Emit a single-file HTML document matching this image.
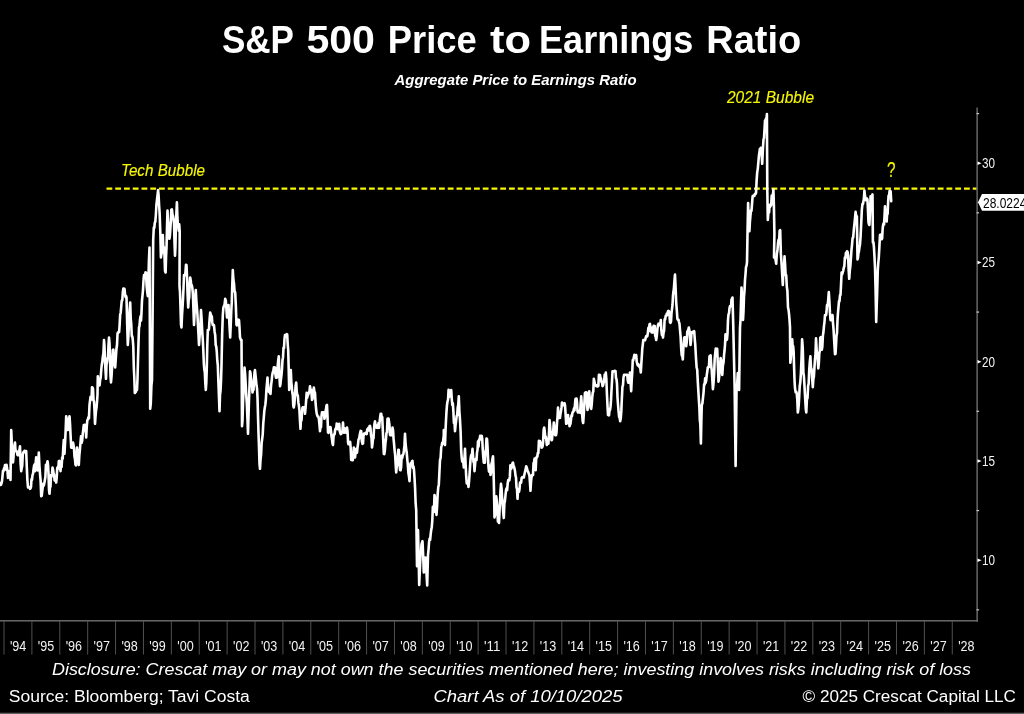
<!DOCTYPE html>
<html lang="en"><head><meta charset="utf-8"><title>S&amp;P 500 Price to Earnings Ratio</title>
<style>
html,body{margin:0;padding:0;background:#000;}
body{width:1024px;height:714px;overflow:hidden;font-family:"Liberation Sans", "DejaVu Sans", sans-serif;}
svg{display:block;}
text{font-family:"Liberation Sans", "DejaVu Sans", sans-serif;}
.t{fill:#fff;}
.y{fill:#f7f700;font-style:italic;stroke:#f7f700;stroke-width:0.12px;}
.ax{fill:#f2f2f2;font-size:14.5px;}
.ft{fill:#fff;font-size:16px;}
</style></head><body>
<svg width="1024" height="714" viewBox="0 0 1024 714">
<rect width="1024" height="714" fill="#000"/>
<text class="t" y="52.5" font-size="38.4" font-weight="bold"><tspan x="221.9" textLength="71.5" lengthAdjust="spacingAndGlyphs">S&amp;P</tspan> <tspan x="306.4" textLength="68.6" lengthAdjust="spacingAndGlyphs">500</tspan> <tspan x="387.8" textLength="89" lengthAdjust="spacingAndGlyphs">Price</tspan> <tspan x="490" textLength="41" lengthAdjust="spacingAndGlyphs">to</tspan> <tspan x="539" textLength="154.4" lengthAdjust="spacingAndGlyphs">Earnings</tspan> <tspan x="706.3" textLength="94.9" lengthAdjust="spacingAndGlyphs">Ratio</tspan></text>
<text class="t" x="394.5" y="85" font-size="14.8" font-weight="bold" font-style="italic" textLength="242" lengthAdjust="spacingAndGlyphs">Aggregate Price to Earnings Ratio</text>
<text class="y" x="727" y="103.4" font-size="15.8" textLength="87" lengthAdjust="spacingAndGlyphs">2021 Bubble</text>
<text class="y" x="121" y="175.7" font-size="15.8" textLength="84" lengthAdjust="spacingAndGlyphs">Tech Bubble</text>
<text class="y" x="887" y="177" font-size="21.5" style="font-style:normal" textLength="8.5" lengthAdjust="spacingAndGlyphs">?</text>
<line x1="106.5" y1="188.6" x2="977" y2="188.6" stroke="#f7f700" stroke-width="2.1" stroke-dasharray="5.8 2.95"/>
<rect x="976.3" y="107.5" width="1.7" height="514" fill="#5a5a5a"/>
<rect x="0" y="620.1" width="978" height="1.4" fill="#707070"/>
<rect x="976.5" y="609.225" width="2.6" height="1.2" fill="#c8c8c8"/>
<path d="M977.5,558.5 L981.6,560.2 L977.5,561.9 Z" fill="#fff"/>
<text class="ax" x="982" y="565.1" textLength="13" lengthAdjust="spacingAndGlyphs">10</text>
<rect x="976.5" y="509.975" width="2.6" height="1.2" fill="#c8c8c8"/>
<path d="M977.5,459.25 L981.6,460.95 L977.5,462.65 Z" fill="#fff"/>
<text class="ax" x="982" y="465.85" textLength="13" lengthAdjust="spacingAndGlyphs">15</text>
<rect x="976.5" y="410.725" width="2.6" height="1.2" fill="#c8c8c8"/>
<path d="M977.5,360 L981.6,361.7 L977.5,363.4 Z" fill="#fff"/>
<text class="ax" x="982" y="366.6" textLength="13" lengthAdjust="spacingAndGlyphs">20</text>
<rect x="976.5" y="311.475" width="2.6" height="1.2" fill="#c8c8c8"/>
<path d="M977.5,260.75 L981.6,262.45 L977.5,264.15 Z" fill="#fff"/>
<text class="ax" x="982" y="267.35" textLength="13" lengthAdjust="spacingAndGlyphs">25</text>
<rect x="976.5" y="212.225" width="2.6" height="1.2" fill="#c8c8c8"/>
<path d="M977.5,161.5 L981.6,163.2 L977.5,164.9 Z" fill="#fff"/>
<text class="ax" x="982" y="168.1" textLength="13" lengthAdjust="spacingAndGlyphs">30</text>
<rect x="976.5" y="112.975" width="2.6" height="1.2" fill="#c8c8c8"/>
<path d="M978,202.3 L982,194.1 L1024,194.1 L1024,210.7 L982,210.7 Z" fill="#fff"/>
<text x="983" y="207.7" font-size="14.5" fill="#000" textLength="43.3" lengthAdjust="spacingAndGlyphs">28.0224</text>
<rect x="3.5" y="621" width="1" height="33.5" fill="#505050"/>
<text class="ax" x="9.9" y="651.4" textLength="16.4" lengthAdjust="spacingAndGlyphs">'94</text>
<rect x="31.39" y="621" width="1" height="33.5" fill="#505050"/>
<text class="ax" x="37.79" y="651.4" textLength="16.4" lengthAdjust="spacingAndGlyphs">'95</text>
<rect x="59.28" y="621" width="1" height="33.5" fill="#505050"/>
<text class="ax" x="65.68" y="651.4" textLength="16.4" lengthAdjust="spacingAndGlyphs">'96</text>
<rect x="87.17" y="621" width="1" height="33.5" fill="#505050"/>
<text class="ax" x="93.57" y="651.4" textLength="16.4" lengthAdjust="spacingAndGlyphs">'97</text>
<rect x="115.06" y="621" width="1" height="33.5" fill="#505050"/>
<text class="ax" x="121.46" y="651.4" textLength="16.4" lengthAdjust="spacingAndGlyphs">'98</text>
<rect x="142.95" y="621" width="1" height="33.5" fill="#505050"/>
<text class="ax" x="149.35" y="651.4" textLength="16.4" lengthAdjust="spacingAndGlyphs">'99</text>
<rect x="170.84" y="621" width="1" height="33.5" fill="#505050"/>
<text class="ax" x="177.24" y="651.4" textLength="16.4" lengthAdjust="spacingAndGlyphs">'00</text>
<rect x="198.73" y="621" width="1" height="33.5" fill="#505050"/>
<text class="ax" x="205.13" y="651.4" textLength="16.4" lengthAdjust="spacingAndGlyphs">'01</text>
<rect x="226.62" y="621" width="1" height="33.5" fill="#505050"/>
<text class="ax" x="233.02" y="651.4" textLength="16.4" lengthAdjust="spacingAndGlyphs">'02</text>
<rect x="254.51" y="621" width="1" height="33.5" fill="#505050"/>
<text class="ax" x="260.91" y="651.4" textLength="16.4" lengthAdjust="spacingAndGlyphs">'03</text>
<rect x="282.4" y="621" width="1" height="33.5" fill="#505050"/>
<text class="ax" x="288.8" y="651.4" textLength="16.4" lengthAdjust="spacingAndGlyphs">'04</text>
<rect x="310.29" y="621" width="1" height="33.5" fill="#505050"/>
<text class="ax" x="316.69" y="651.4" textLength="16.4" lengthAdjust="spacingAndGlyphs">'05</text>
<rect x="338.18" y="621" width="1" height="33.5" fill="#505050"/>
<text class="ax" x="344.58" y="651.4" textLength="16.4" lengthAdjust="spacingAndGlyphs">'06</text>
<rect x="366.07" y="621" width="1" height="33.5" fill="#505050"/>
<text class="ax" x="372.47" y="651.4" textLength="16.4" lengthAdjust="spacingAndGlyphs">'07</text>
<rect x="393.96" y="621" width="1" height="33.5" fill="#505050"/>
<text class="ax" x="400.36" y="651.4" textLength="16.4" lengthAdjust="spacingAndGlyphs">'08</text>
<rect x="421.85" y="621" width="1" height="33.5" fill="#505050"/>
<text class="ax" x="428.25" y="651.4" textLength="16.4" lengthAdjust="spacingAndGlyphs">'09</text>
<rect x="449.74" y="621" width="1" height="33.5" fill="#505050"/>
<text class="ax" x="456.14" y="651.4" textLength="16.4" lengthAdjust="spacingAndGlyphs">'10</text>
<rect x="477.63" y="621" width="1" height="33.5" fill="#505050"/>
<text class="ax" x="484.03" y="651.4" textLength="16.4" lengthAdjust="spacingAndGlyphs">'11</text>
<rect x="505.52" y="621" width="1" height="33.5" fill="#505050"/>
<text class="ax" x="511.92" y="651.4" textLength="16.4" lengthAdjust="spacingAndGlyphs">'12</text>
<rect x="533.41" y="621" width="1" height="33.5" fill="#505050"/>
<text class="ax" x="539.81" y="651.4" textLength="16.4" lengthAdjust="spacingAndGlyphs">'13</text>
<rect x="561.3" y="621" width="1" height="33.5" fill="#505050"/>
<text class="ax" x="567.7" y="651.4" textLength="16.4" lengthAdjust="spacingAndGlyphs">'14</text>
<rect x="589.19" y="621" width="1" height="33.5" fill="#505050"/>
<text class="ax" x="595.59" y="651.4" textLength="16.4" lengthAdjust="spacingAndGlyphs">'15</text>
<rect x="617.08" y="621" width="1" height="33.5" fill="#505050"/>
<text class="ax" x="623.48" y="651.4" textLength="16.4" lengthAdjust="spacingAndGlyphs">'16</text>
<rect x="644.97" y="621" width="1" height="33.5" fill="#505050"/>
<text class="ax" x="651.37" y="651.4" textLength="16.4" lengthAdjust="spacingAndGlyphs">'17</text>
<rect x="672.86" y="621" width="1" height="33.5" fill="#505050"/>
<text class="ax" x="679.26" y="651.4" textLength="16.4" lengthAdjust="spacingAndGlyphs">'18</text>
<rect x="700.75" y="621" width="1" height="33.5" fill="#505050"/>
<text class="ax" x="707.15" y="651.4" textLength="16.4" lengthAdjust="spacingAndGlyphs">'19</text>
<rect x="728.64" y="621" width="1" height="33.5" fill="#505050"/>
<text class="ax" x="735.04" y="651.4" textLength="16.4" lengthAdjust="spacingAndGlyphs">'20</text>
<rect x="756.53" y="621" width="1" height="33.5" fill="#505050"/>
<text class="ax" x="762.93" y="651.4" textLength="16.4" lengthAdjust="spacingAndGlyphs">'21</text>
<rect x="784.42" y="621" width="1" height="33.5" fill="#505050"/>
<text class="ax" x="790.82" y="651.4" textLength="16.4" lengthAdjust="spacingAndGlyphs">'22</text>
<rect x="812.31" y="621" width="1" height="33.5" fill="#505050"/>
<text class="ax" x="818.71" y="651.4" textLength="16.4" lengthAdjust="spacingAndGlyphs">'23</text>
<rect x="840.2" y="621" width="1" height="33.5" fill="#505050"/>
<text class="ax" x="846.6" y="651.4" textLength="16.4" lengthAdjust="spacingAndGlyphs">'24</text>
<rect x="868.09" y="621" width="1" height="33.5" fill="#505050"/>
<text class="ax" x="874.49" y="651.4" textLength="16.4" lengthAdjust="spacingAndGlyphs">'25</text>
<rect x="895.98" y="621" width="1" height="33.5" fill="#505050"/>
<text class="ax" x="902.38" y="651.4" textLength="16.4" lengthAdjust="spacingAndGlyphs">'26</text>
<rect x="923.87" y="621" width="1" height="33.5" fill="#505050"/>
<text class="ax" x="930.27" y="651.4" textLength="16.4" lengthAdjust="spacingAndGlyphs">'27</text>
<rect x="951.76" y="621" width="1" height="33.5" fill="#505050"/>
<text class="ax" x="958.16" y="651.4" textLength="16.4" lengthAdjust="spacingAndGlyphs">'28</text>
<path d="M0,485 L0.5,483.2 L1,484.8 L1.5,483.1 L2,481.1 L2.5,476.2 L3,470.7 L3.5,471.1 L4,468.4 L4.5,468.5 L5,465 L5.5,467.8 L6,469.6 L6.5,464.7 L7,467.9 L7.5,471.2 L8,477.9 L8.5,474.8 L9,471.4 L9.5,471.8 L10,474.2 L10.5,480 L11.2,430 L11.8,442.9 L12.4,450.6 L13,462.5 L13.5,457 L14,446.8 L14.5,447.3 L15,442.5 L15.5,450.9 L16,451.2 L16.5,450.9 L17,452.4 L17.5,455 L18,455.3 L18.5,455.3 L19,454.5 L19.5,449.4 L20,446.2 L20.6,463.3 L21.2,471.2 L21.72,468.1 L22.24,465.8 L22.76,454.8 L23.28,452.2 L23.8,452.5 L24.4,450.9 L25,450.9 L25.6,451.5 L26.2,451.2 L26.8,467.1 L27.4,480.4 L28,487.5 L28.5,487.2 L29,487.2 L29.5,487.2 L30,488.8 L30.5,488.4 L31,486.9 L31.5,479 L32,479.8 L32.5,475 L33.02,473.9 L33.55,469.2 L34.08,465.8 L34.6,464.4 L35.12,471.2 L35.65,463 L36.17,457.4 L36.7,459.4 L37.22,466.9 L37.75,470.5 L38.27,462.9 L38.8,452.5 L39.4,465.6 L40,473.8 L40.6,480.3 L41.2,496.2 L41.73,495.8 L42.25,491.2 L42.78,487 L43.3,483.6 L43.83,485.5 L44.35,482.9 L44.88,480 L45.4,477.1 L45.92,464.7 L46.45,465.2 L46.98,464.1 L47.5,461.2 L48,464.5 L48.5,473.8 L49,489.8 L49.5,493.8 L50,487.4 L50.5,486.5 L51,475.1 L51.5,476.8 L52,473.7 L52.5,467.5 L53.03,469.7 L53.56,473.3 L54.09,474.6 L54.61,480.5 L55.14,478.2 L55.67,477.1 L56.2,482.5 L56.72,477.4 L57.24,468.1 L57.76,467.1 L58.28,468.5 L58.8,461.2 L59.37,460.9 L59.93,466 L60.5,471.2 L61.05,465.2 L61.6,466.9 L62.15,457.6 L62.7,458.6 L63.25,448.2 L63.8,440 L64.5,453.8 L65.07,442.8 L65.63,430.7 L66.2,416.2 L66.8,420.1 L67.4,424.1 L68,430 L68.5,423.6 L69,419.2 L69.5,416.2 L70.07,424.6 L70.63,436.5 L71.2,447.5 L71.8,447.8 L72.4,447.8 L73,442.5 L73.5,444.8 L74,448.7 L74.5,456.8 L75,459.3 L75.5,465 L76,465.3 L76.5,455.6 L77,447.5 L77.6,453.1 L78.2,459.4 L78.8,465 L79.37,454.8 L79.93,449.5 L80.5,442.5 L81.05,436.2 L81.6,442.8 L82.15,440.8 L82.7,434.4 L83.25,430 L83.8,425 L84.4,430.4 L85,424.7 L85.6,427.3 L86.2,437.5 L86.75,426.6 L87.3,420.6 L87.85,419.2 L88.4,417.3 L88.95,418.3 L89.5,405 L90,400.9 L90.5,396.9 L91,397.2 L91.5,399.6 L92,387.2 L92.5,387.5 L93,389 L93.5,400.2 L94,401.5 L94.5,410.4 L95,423.8 L95.5,416.6 L96,410.9 L96.5,407.9 L97,402 L97.5,395 L97.8,376.2 L98.4,383.6 L99,385 L99.56,385.3 L100.11,379.8 L100.67,377.7 L101.22,370.3 L101.78,364.7 L102.33,361.6 L102.89,356.4 L103.44,353.1 L104,340 L104.5,346.2 L105,361.9 L105.5,370.5 L106,378.8 L106.5,364.5 L107,362.5 L107.5,358.2 L108,357.1 L108.5,345.2 L109,337.5 L109.5,343.3 L110,357.6 L110.5,375.6 L111,382.5 L111.6,375.1 L112.2,365.2 L112.8,350 L113.4,349.7 L114,359.1 L114.6,364.4 L115.2,367.5 L115.8,358.3 L116.4,349.2 L117,345 L117.53,333.8 L118.05,332.3 L118.58,332.3 L119.11,332.2 L119.64,324.8 L120.16,314.8 L120.69,312.7 L121.22,306.6 L121.75,300.5 L122.27,300.3 L122.8,292.5 L123.37,288.5 L123.93,291.6 L124.5,288.8 L125,294.1 L125.5,297.1 L126,295.9 L126.5,297.5 L127.15,322.9 L127.8,345 L128.4,336.1 L129,320.9 L129.6,310.7 L130.2,302.5 L130.72,318.3 L131.24,323.8 L131.76,336.3 L132.28,336.3 L132.8,340 L133.3,346.8 L133.8,367.3 L134.3,377.4 L134.8,393 L135.35,392 L135.9,391.8 L136.45,389.7 L137,390 L137.5,378.6 L138,359.4 L138.5,342.4 L139,327.5 L139.5,325.9 L140,319.6 L140.5,316.4 L141,320.6 L141.5,312.5 L142,300.5 L142.5,295.7 L143,290 L143.5,280.7 L144,275 L144.5,275.3 L145,275.3 L145.5,272.4 L146,272.5 L146.6,285.4 L147.2,291.5 L147.8,296.2 L148.37,280.1 L148.93,260.6 L149.5,247.5 L150.2,408.8 L150.8,403.3 L151.4,385.6 L152,380 L152.6,312.9 L153.2,240 L153.8,227.5 L154.3,227.8 L154.8,222.6 L155.3,221.9 L155.86,215 L156.42,204.7 L156.98,200 L157.54,195.2 L158.1,190 L158.6,195.5 L159.1,205.5 L159.6,212.5 L160.4,235 L160.9,257.5 L161.38,254.3 L161.85,252.9 L162.33,244.4 L162.8,235 L163.36,249.3 L163.92,247 L164.48,254.6 L165.04,271.1 L165.6,272.5 L166.07,256.7 L166.55,246.4 L167.03,226.9 L167.5,210.6 L167.97,221.5 L168.45,224.2 L168.93,230.7 L169.4,238.8 L169.88,235.7 L170.35,228.8 L170.83,221.1 L171.3,209.7 L171.9,209.4 L172.5,214.6 L173.1,216.3 L173.57,219.9 L174.05,223.6 L174.53,243 L175,255.6 L175.47,246.1 L175.95,222 L176.43,212.4 L176.9,202.2 L177.35,215.8 L177.8,223.8 L178.28,225.9 L178.75,230.6 L179.22,224.3 L179.7,231.3 L179.5,286.2 L180,292.2 L180.5,307.3 L181,324.6 L181.5,327.5 L182,315.4 L182.5,307.6 L183,299.4 L183.5,288.5 L184,275 L184.5,275.3 L185,275.3 L185.5,271.6 L186,264.7 L186.5,265 L187.07,278.2 L187.63,295.1 L188.2,307.5 L188.7,300 L189.2,297.7 L189.7,284.4 L190.2,277.5 L190.72,280.2 L191.24,285.5 L191.76,285.1 L192.28,287.5 L192.8,292.5 L193.4,308.2 L194,325 L194.6,313.3 L195.2,299.1 L195.8,290 L196.33,300.4 L196.87,306.9 L197.4,314.2 L197.93,324.4 L198.47,334.1 L199,345 L199.5,337.6 L200,331 L200.5,323 L201,310 L201.6,319 L202.2,330.9 L202.8,340 L203.3,350.1 L203.8,363 L204.3,369.6 L204.8,372 L205.3,383.2 L205.8,390 L206.3,382.8 L206.8,367.5 L207.3,345.2 L207.8,330 L208.4,330.3 L209,328.7 L209.6,319.3 L210.2,312.5 L210.72,314.3 L211.24,316 L211.76,316.2 L212.28,322.4 L212.8,325 L213.4,324.7 L214,325.4 L214.6,331.7 L215.2,335 L215.72,345.4 L216.24,346.3 L216.76,351.5 L217.28,360.5 L217.8,365 L218.37,381.3 L218.93,395.6 L219.5,411.2 L220,394.9 L220.5,391 L221,381.3 L221.5,365 L222.15,334.4 L222.8,315 L223.4,307.7 L224,305.9 L224.6,304.5 L225.2,298.8 L225.8,300.7 L226.4,308.7 L227,317.5 L227.5,315.5 L228,312 L228.5,305 L229.07,317.3 L229.63,328.1 L230.2,337.5 L230.72,325.3 L231.24,311.8 L231.76,302.4 L232.28,285.3 L232.8,270 L233.4,280 L234,283.5 L234.6,291.5 L235.2,292.5 L235.85,305.9 L236.5,325 L237,325.3 L237.5,324.1 L238,321.4 L238.5,319.7 L239,320 L239.5,327.5 L240,337.5 L240.5,338.7 L241,340.3 L241.5,340 L242,426.2 L242.5,420.6 L243,402.3 L243.5,392.2 L244,385.2 L244.5,367.5 L245.08,373.8 L245.67,383.6 L246.25,395.3 L246.83,403.5 L247.42,418.1 L248,433.8 L248.5,416.5 L249,399.5 L249.5,386.1 L250,371.2 L250.5,373.2 L251,378.8 L251.5,381.9 L252,385 L252.5,392.5 L253,390.1 L253.5,390 L254,380.4 L254.5,372.5 L255,370 L255.5,375.2 L256,379.8 L256.5,385.6 L257,388.3 L257.5,397.5 L258,416.3 L258.5,433.2 L259,447.4 L259.5,463.8 L260,468.8 L260.54,459.5 L261.09,454.7 L261.63,443 L262.17,439 L262.71,434.7 L263.26,423.6 L263.8,417.5 L264.33,410.6 L264.86,407.2 L265.39,404.4 L265.91,398.8 L266.44,389.4 L266.97,383.3 L267.5,377.5 L268,385.1 L268.5,390.8 L269,391.9 L269.5,390.1 L270,392.8 L270.5,393.8 L271.06,385.2 L271.62,381.1 L272.19,375.4 L272.75,372.3 L273.31,371.1 L273.88,367.2 L274.44,372.5 L275,367.5 L275.5,375 L276,377.8 L276.5,377.8 L277,377.5 L277.6,366.9 L278.2,360.7 L278.8,356.2 L279.4,375.7 L280,386.2 L280.5,383.7 L281,378.9 L281.5,374.9 L282,369 L282.5,360 L283,357.4 L283.5,347.7 L284,348.2 L284.5,338.7 L285,335 L285.55,335.3 L286.1,335.3 L286.65,334.2 L287.2,334.5 L287.7,344.1 L288.2,350 L288.7,369.3 L289.2,390 L289.73,384 L290.27,371.3 L290.8,370 L291.3,382.1 L291.8,386.7 L292.3,392.5 L292.8,395.2 L293.3,406.1 L293.8,407.5 L294.4,404 L295,395.4 L295.6,385.8 L296.2,382.5 L296.74,391.8 L297.27,395.1 L297.81,395.4 L298.35,402.4 L298.89,405.5 L299.43,410.2 L299.96,420.4 L300.5,428.8 L301,418.3 L301.5,420.3 L302,412.2 L302.5,407.5 L303,407.2 L303.5,407.2 L304,407.2 L304.5,407.2 L305,413.8 L305.56,407.9 L306.11,400.6 L306.67,392.9 L307.22,397.7 L307.78,395.2 L308.33,394.4 L308.89,392.6 L309.44,391.6 L310,386.2 L310.5,391.1 L311,389.4 L311.5,393.8 L312,400 L312.6,398.9 L313.2,394.7 L313.8,387.5 L314.4,391.6 L315,392.8 L315.6,403.2 L316.2,410 L316.74,413.6 L317.29,415.7 L317.83,416.7 L318.37,416.6 L318.91,419.2 L319.46,424.7 L320,431.2 L320.5,425.7 L321,427.1 L321.5,415.9 L322,412.2 L322.5,412.5 L323,412.2 L323.5,412.2 L324,414.2 L324.5,418.8 L325,416.7 L325.5,411.6 L326,409.3 L326.5,405.5 L327,405 L327.5,416.5 L328,432.5 L328.5,432.8 L329,428.6 L329.5,427.2 L330,427.5 L330.5,427.2 L331,431.1 L331.5,436.3 L332,439.5 L332.5,443.6 L333,445 L333.53,436.6 L334.07,434.4 L334.6,434.4 L335.13,430 L335.67,428.5 L336.2,428.8 L336.7,423.5 L337.2,424.5 L337.7,429.1 L338.2,427.1 L338.7,426.1 L339.2,423.8 L339.7,430.9 L340.2,432.5 L340.7,434.1 L341.2,433.8 L341.8,432.7 L342.4,431.6 L343,422.5 L343.5,430 L344,432.8 L344.5,428.2 L345,432.5 L345.5,431.6 L346,432.8 L346.5,432.8 L347,427.5 L347.52,431.1 L348.05,442.4 L348.57,444.3 L349.1,444.3 L349.62,442.7 L350.15,441.8 L350.68,447.8 L351.2,460 L351.72,457.9 L352.24,455 L352.76,460.3 L353.28,454.6 L353.8,447.5 L354.4,452.5 L355,457.5 L355.5,453.6 L356,449 L356.5,451 L357,452.7 L357.5,447.5 L358.03,444.1 L358.56,439.2 L359.09,438.8 L359.61,435.8 L360.14,433 L360.67,430.9 L361.2,431.2 L361.85,441.5 L362.5,443.8 L363,443.4 L363.5,435.8 L364,433.5 L364.5,433.5 L365,433.8 L365.56,432.9 L366.12,433.4 L366.69,434.1 L367.25,429.2 L367.81,430.1 L368.38,427.9 L368.94,430.4 L369.5,426.2 L370,425.9 L370.5,428.4 L371,435 L371.5,438 L372,447.5 L372.5,443.9 L373,438.8 L373.5,438.5 L374,429.1 L374.5,423.7 L375,421.2 L375.5,425.7 L376,425.7 L376.5,427.7 L377,425.5 L377.5,427.5 L378.03,427.8 L378.56,423 L379.09,427.8 L379.61,421.8 L380.14,417.4 L380.67,413.7 L381.2,413.8 L381.72,417.4 L382.24,417.1 L382.76,429.1 L383.28,441.8 L383.8,453.8 L384.33,454.1 L384.86,450.4 L385.39,443.4 L385.91,439.5 L386.44,433.1 L386.97,432.5 L387.5,418.8 L388,422.6 L388.5,418.5 L389,421.6 L389.5,425.4 L390,435 L390.5,435.3 L391,435.3 L391.5,435.3 L392,433.3 L392.5,427.5 L393.03,430.2 L393.56,438.7 L394.09,444.4 L394.61,450.3 L395.14,455 L395.67,464.7 L396.2,472.5 L396.72,466.8 L397.24,464.6 L397.76,458.9 L398.28,449.7 L398.8,450 L399.4,463.2 L400,470 L400.56,470.2 L401.11,467.2 L401.67,455.5 L402.22,458.1 L402.78,455 L403.33,454.4 L403.89,450.7 L404.44,445.4 L405,433.8 L405.56,443.3 L406.12,448.6 L406.69,452.4 L407.25,459.1 L407.81,464.6 L408.38,472.8 L408.94,476.2 L409.5,481.2 L410,468.4 L410.5,463.3 L411,463.2 L411.5,466 L412,461.2 L412.5,460.9 L413,467.9 L413.5,466.5 L414,469.9 L414.5,477.5 L415.07,487.7 L415.63,503.2 L416.2,510 L417,566.2 L417.5,547.7 L418,530 L418.6,554.7 L419.2,585 L419.85,569.8 L420.5,555 L421,553.2 L421.5,544.4 L422,542.7 L422.5,541.2 L423.15,555 L423.8,572.5 L424.37,564 L424.93,566 L425.5,557.5 L426.07,566.2 L426.63,575.5 L427.2,585.5 L428,555 L428.53,549.6 L429.07,542 L429.6,538.6 L430.13,539.9 L430.67,534.2 L431.2,530 L431.75,527.5 L432.3,520.7 L432.85,506.9 L433.4,510.1 L433.95,512 L434.5,495 L435,497.6 L435.5,502.2 L436,509.3 L436.5,515 L437.08,506.3 L437.67,494.2 L438.25,487.2 L438.83,484.4 L439.42,472.1 L440,460 L440.6,458.1 L441.2,447.5 L441.72,445.5 L442.24,442.7 L442.76,443.8 L443.28,439.8 L443.8,435 L443.8,430 L444.4,438.9 L445,445 L445.5,430.9 L446,420.2 L446.5,411.4 L447,405 L447.52,401.5 L448.05,399.6 L448.57,389.7 L449.1,397.1 L449.62,393.8 L450.15,393.7 L450.68,396.1 L451.2,390 L451.74,398.6 L452.29,405 L452.83,403.3 L453.37,411.1 L453.91,423 L454.46,421.1 L455,431.2 L455.54,425.4 L456.09,420.8 L456.63,416.1 L457.17,415.3 L457.71,407.5 L458.26,404.8 L458.8,396.2 L459.4,411.5 L460,419.9 L460.6,431.4 L461.2,451.2 L461.72,457.8 L462.24,461.6 L462.76,461 L463.28,462.1 L463.8,467.5 L464.4,459.3 L465,448.8 L465.6,463.8 L466.2,476.2 L466.77,483.5 L467.35,483 L467.93,481.8 L468.5,487 L469.04,481.3 L469.58,474 L470.12,465.4 L470.66,458.2 L471.2,455 L471.85,455.3 L472.5,448.8 L473,455.9 L473.5,461.9 L474,462.5 L474.5,471.2 L475,465.5 L475.5,459.5 L476,458.6 L476.5,460.1 L477,452.5 L477.5,450 L478.03,441.2 L478.56,446.7 L479.09,439.6 L479.61,440.1 L480.14,435.9 L480.67,435.9 L481.2,436.2 L481.72,435.9 L482.24,439.2 L482.76,449.6 L483.28,457.3 L483.8,462.5 L484.33,462.8 L484.87,462.8 L485.4,451.3 L485.93,450.6 L486.47,438.5 L487,438.8 L487.5,446.5 L488,457.5 L488.5,467.1 L489,471.7 L489.5,469.4 L490,465.7 L490.5,475 L491,472.8 L491.5,463.7 L492,462 L492.5,458.8 L493,456.2 L493.5,469 L494,490.5 L494.5,517.5 L495.07,515 L495.63,513.1 L496.2,496.2 L496.76,500.6 L497.32,506.4 L497.88,521.5 L498.44,520.9 L499,523 L499.5,511.5 L500,503.9 L500.5,490.3 L501,483.8 L501.56,488.5 L502.12,498 L502.68,503.9 L503.24,512.8 L503.8,518 L504.37,503.4 L504.93,501 L505.5,495 L506.05,489.9 L506.6,488.3 L507.15,490.2 L507.7,483.2 L508.25,480.1 L508.8,480 L509.32,480.3 L509.85,476.9 L510.38,465.4 L510.9,469 L511.43,468.5 L511.95,466.6 L512.48,463.3 L513,462.5 L513.5,465.9 L514,466.6 L514.5,468.6 L515,471.2 L515.5,475.6 L516,477.5 L516.5,487.5 L517,488.7 L517.5,498.8 L518,490.8 L518.5,489 L519,491.7 L519.5,489.2 L520,482.5 L520.54,482.8 L521.09,482.8 L521.63,478 L522.17,477.2 L522.71,477.6 L523.26,477.2 L523.8,477.5 L524.4,474.6 L525,471.9 L525.6,469.7 L526.2,466.2 L526.72,467.4 L527.24,469.8 L527.76,471.1 L528.28,472.1 L528.8,473.8 L529.37,474.8 L529.93,482.1 L530.5,490.8 L531,482 L531.5,477.4 L532,475.3 L532.5,474.7 L533,475 L533.53,463.2 L534.07,462.2 L534.6,458.5 L535.13,458.5 L535.67,470.1 L536.2,458.8 L536.74,456.9 L537.29,456.8 L537.83,453 L538.37,453.1 L538.91,440.9 L539.46,442 L540,441.2 L540.5,443.3 L541,442.7 L541.5,447.6 L542,447.5 L542.55,446.4 L543.1,442 L543.65,429.8 L544.2,427.5 L544.72,431.3 L545.24,437.6 L545.76,436.6 L546.28,439.3 L546.8,445 L547.34,440.2 L547.88,440.3 L548.42,443.7 L548.96,434.1 L549.5,420 L550,424.7 L550.5,432.4 L551,437.4 L551.5,440.3 L552,440 L552.6,432.1 L553.2,431.3 L553.8,422.5 L554.4,426.9 L555,435 L555.5,435.3 L556,435.3 L556.5,432.4 L557,422.7 L557.5,417.3 L558,407.5 L558.5,416.5 L559,417.8 L559.5,417.5 L560,417.8 L560.5,413.6 L561,411.1 L561.5,407.5 L562,402.5 L562.5,405.3 L563,405.3 L563.5,405.3 L564,403.6 L564.5,403.2 L565,405 L565.6,414.2 L566.2,423.8 L566.8,423.5 L567.4,421.3 L568,415 L568.5,420 L569,418.7 L569.5,426.2 L570,424.8 L570.5,423.7 L571,419.6 L571.5,415.3 L572,416 L572.5,412.5 L573,412.1 L573.5,411 L574,408.3 L574.5,410.4 L575,404.1 L575.5,398.8 L576,398.5 L576.5,398.5 L577,402.1 L577.5,411.2 L578,412.5 L578.53,410.9 L579.07,412.1 L579.6,411.7 L580.13,412.8 L580.67,403.2 L581.2,396.2 L581.7,403.7 L582.2,415.5 L582.7,421.4 L583.2,423 L583.78,414.2 L584.35,404 L584.92,393 L585.5,392.5 L586,392.2 L586.5,392.4 L587,403.4 L587.5,410 L588.07,405 L588.63,395.8 L589.2,391.2 L589.7,398.8 L590.2,402 L590.7,408 L591.2,408.8 L591.72,404.6 L592.24,397.1 L592.76,392.5 L593.28,391.8 L593.8,378.8 L594.4,381.2 L595,384.9 L595.6,384.9 L596.2,386.2 L596.74,385.4 L597.29,386.5 L597.83,386.5 L598.37,385.9 L598.91,374.7 L599.46,379 L600,375 L600.5,379.1 L601,378.3 L601.5,382.3 L602,381.6 L602.5,386.2 L603.05,385.5 L603.6,382.8 L604.15,381.3 L604.7,374.6 L605.25,378.2 L605.8,372.5 L606.35,379.2 L606.9,393.2 L607.45,404.7 L608,415 L608.5,413.7 L609,415.3 L609.5,410.3 L610,410 L610.5,406.9 L611,400.4 L611.5,390.2 L612,381.3 L612.5,371.2 L613,371.5 L613.5,371.5 L614,371.5 L614.5,370.9 L615,371.2 L615.5,371.1 L616,378 L616.5,379.2 L617,383.8 L617.5,397.5 L618.04,404.6 L618.58,411.3 L619.12,416.8 L619.66,417.8 L620.2,421.2 L620.76,418.3 L621.32,410.9 L621.88,398 L622.44,386.8 L623,385 L623.53,377.2 L624.07,374.7 L624.6,374.7 L625.13,374.7 L625.67,374.7 L626.2,375 L626.72,374.7 L627.24,374.7 L627.76,380.3 L628.28,382.8 L628.8,382.5 L629.4,377.9 L630,372.5 L630.6,383.1 L631.2,391.2 L631.72,380 L632.24,372.3 L632.76,360.1 L633.28,360.3 L633.8,357.5 L634.4,354.7 L635,357.8 L635.6,357.8 L636.2,355 L636.72,361.7 L637.24,363.7 L637.76,365.3 L638.28,364.2 L638.8,365 L639.3,366.7 L639.8,367.4 L640.3,368 L640.8,372.5 L641.3,364.1 L641.8,356.7 L642.3,348.7 L642.8,344.5 L643.3,340.1 L643.8,340 L644.4,340.3 L645,340.3 L645.6,338.2 L646.2,336.2 L646.74,336.5 L647.29,336.4 L647.83,333.1 L648.37,327.9 L648.91,331.1 L649.46,324.6 L650,323.8 L650.5,329.3 L651,328.4 L651.5,332.4 L652,327.7 L652.5,332.5 L653.07,332.4 L653.63,325.9 L654.2,326.2 L654.7,326.1 L655.2,335.9 L655.7,336.8 L656.2,340 L656.8,336 L657.4,329.1 L658,325 L658.56,323.7 L659.12,325.3 L659.68,325.3 L660.24,325.3 L660.8,320 L661.35,330.2 L661.9,335.2 L662.45,332.1 L663,337.5 L663.53,332.9 L664.07,331 L664.6,319.4 L665.13,319.6 L665.67,315.9 L666.2,316.2 L666.8,313.6 L667.4,314.8 L668,311.2 L668.5,310.9 L669,311.3 L669.5,315.5 L670,322.5 L670.5,322.8 L671,321.6 L671.5,313.1 L672,309.1 L672.5,305 L673,295.2 L673.5,291.8 L674,287.1 L674.5,279.8 L675,274.5 L675.6,287.7 L676.2,302.5 L676.8,310.2 L677.4,318.8 L678,320 L678.5,319.7 L679,322.1 L679.5,323.8 L680,330 L680.6,336.4 L681.2,348.8 L681.73,355.4 L682.27,355.4 L682.8,359.5 L683.27,350.3 L683.73,342.8 L684.2,337.5 L684.7,337.2 L685.2,337.2 L685.7,338.9 L686.2,346.2 L686.72,342.4 L687.24,331.9 L687.76,330.8 L688.28,329.7 L688.8,327.5 L689.37,330.2 L689.93,336.5 L690.5,345 L691,341.2 L691.5,332.2 L692,332.2 L692.5,332.5 L693.07,331.7 L693.63,332.8 L694.2,331.2 L694.73,338.5 L695.27,344.8 L695.8,355 L696.6,367.5 L697.2,369.5 L697.8,381.9 L698.4,391.9 L698.88,400.1 L699.35,407.4 L699.82,420 L700.3,423.8 L700.9,443.4 L701.35,420.7 L701.8,405 L702.38,403.5 L702.95,398.4 L703.52,392.8 L704.1,384.4 L704.63,384.7 L705.16,378.2 L705.69,382.6 L706.21,380.4 L706.74,375.2 L707.27,371.5 L707.8,367.5 L708.36,366.8 L708.92,367 L709.48,356.3 L710.04,355.9 L710.6,355.3 L711.17,365 L711.75,370.7 L712.33,379.6 L712.9,389.1 L713.5,383.5 L714.1,374.8 L714.7,358.6 L715.3,352.5 L715.77,348.5 L716.25,352.8 L716.73,350 L717.2,348.8 L717.85,364.5 L718.5,381.6 L719.02,378.1 L719.55,372.6 L720.08,366 L720.6,358.1 L721.17,360.7 L721.73,367.9 L722.3,375 L722.9,365.5 L723.5,362.8 L724.1,354.4 L724.55,350.5 L725,345 L725.5,334.3 L726,335.5 L726.5,340.1 L727,339.4 L727.5,333.6 L728,320 L728.5,314.3 L729,313.4 L729.5,308.3 L730,306 L730.5,306.2 L731,306.3 L731.5,299.3 L732,299 L732.5,297.5 L733.15,321.2 L733.8,350 L734.6,386.3 L735.1,424.6 L735.6,465.9 L736.05,431.1 L736.5,391.9 L737.15,384.6 L737.8,373.1 L738.45,387.8 L739.1,390 L739.55,356.5 L740,327.5 L740.5,320.1 L741,302.7 L741.5,287.5 L742,294.8 L742.5,307.3 L743,320 L743.5,311.5 L744,296.5 L744.5,291 L745,280 L745.5,274.3 L746,267 L746.5,265.9 L747,262.5 L747.55,231 L748.1,203.1 L748.75,222.4 L749.4,231.3 L749.9,222 L750.4,216.2 L750.9,210.6 L751.48,210.9 L752.06,203.6 L752.64,196.2 L753.22,195.6 L753.8,195.6 L754.36,195.9 L754.92,193.7 L755.48,194.1 L756.04,192.9 L756.6,180.6 L757.2,172.4 L757.8,168.6 L758.4,161.9 L758.9,155.8 L759.4,152.5 L759.9,148.8 L760.4,150.8 L760.9,147.8 L761.55,153.4 L762.2,163.8 L762.85,149.7 L763.5,139.4 L764,138.1 L764.5,129.7 L765,120.6 L765.48,120.9 L765.95,118.6 L766.42,120.9 L766.9,114.1 L767.3,190 L767.8,220 L768.45,212.2 L769.1,212.5 L769.6,204.7 L770.1,206.9 L770.6,205 L771.16,205.3 L771.72,195.6 L772.28,195.2 L772.84,195.9 L773.4,189.6 L773.9,205.9 L774.4,233.9 L774,257.5 L774.55,257.5 L775.1,257.2 L775.65,260.4 L776.2,263.8 L776.85,253.4 L777.5,250 L778.04,243 L778.58,239.7 L779.12,240.8 L779.66,230.8 L780.2,230 L780.85,253.4 L781.5,262.5 L782.15,273.6 L782.8,285 L783.37,272 L783.93,269.3 L784.5,256.2 L785.07,264.2 L785.63,275.3 L786.2,275 L786.8,286.6 L787.4,291 L788,307.5 L788.5,309.6 L789,313.9 L789.5,319.6 L790,327.5 L790.3,362.8 L790.77,358.8 L791.25,352.3 L791.73,348.7 L792.2,339.4 L792.68,347.2 L793.15,346 L793.62,351.4 L794.1,367.5 L794.55,380.8 L795,388.1 L795.65,392.2 L796.3,391.9 L796.8,393.8 L797.3,399.8 L797.8,412.5 L798.27,409.6 L798.75,404.6 L799.23,395.8 L799.7,386.3 L800.3,382.3 L800.9,373.3 L801.5,359 L802.1,339.4 L802.75,347.6 L803.4,373.1 L803.87,375.7 L804.33,383.2 L804.8,391.9 L805.3,400.8 L805.8,409.1 L806.3,412.5 L806.9,399.2 L807.5,398.3 L808.1,386.3 L808.67,383.6 L809.25,369.4 L809.83,361.7 L810.4,356.3 L811,367.7 L811.6,369.3 L812.2,378.7 L812.8,387.2 L813.33,379.3 L813.87,376.8 L814.4,368.1 L814.93,359.9 L815.47,355.2 L816,338.4 L816.58,348.8 L817.15,355.2 L817.72,359.4 L818.3,368.4 L818.8,363.6 L819.3,353.5 L819.8,351 L820.3,337.5 L820.8,337.2 L821.3,344.8 L821.8,349.7 L822.33,346.8 L822.87,335.9 L823.4,332.3 L823.93,326.3 L824.47,322.1 L825,315 L825.5,315.3 L826,315.3 L826.5,312 L827,305 L827.6,305.3 L828.2,300.1 L828.8,292 L829.37,301.1 L829.93,312.4 L830.5,320 L831,320.2 L831.5,318.8 L832,317.8 L832.5,315 L833,323.1 L833.5,328.9 L834,337.3 L834.5,346.3 L835,354.1 L835.5,353.8 L836,345.3 L836.5,335.7 L837,333.1 L837.5,320 L838,312.5 L838.5,306.9 L839,301.1 L839.5,301.2 L840,295 L840.5,295 L841.05,284.6 L841.6,272.6 L842.15,274.3 L842.7,272.4 L843.25,270.8 L843.8,267.5 L844.33,266.4 L844.87,257.6 L845.4,258.6 L845.93,252.9 L846.47,254.1 L847,251.2 L847.55,251.8 L848.1,255.4 L848.65,270 L849.2,278.8 L849.76,271.2 L850.32,266.4 L850.88,258.7 L851.44,250.4 L852,245 L852.6,238.1 L853.2,237.4 L853.8,230 L854.4,224.3 L855,218.3 L855.6,211.9 L856.25,216.1 L856.9,216.2 L857.5,259.4 L857.98,257.6 L858.45,253.1 L858.92,251.6 L859.4,247.5 L860,244.4 L860.6,236.3 L861.2,223.8 L861.85,209.6 L862.5,203.8 L862.98,204.1 L863.45,201.4 L863.92,198.5 L864.4,190.6 L865,196.1 L865.6,198.8 L866.08,200.3 L866.55,200.3 L867.02,198.5 L867.5,200 L868,211.2 L868.5,222.5 L868.95,224.3 L869.4,225 L870,211.7 L870.6,196.2 L871.08,196.5 L871.55,196.5 L872.02,196.5 L872.5,194.4 L872.9,242.5 L873.42,242.2 L873.95,247.5 L874.48,256.8 L875,267.5 L875.6,290.2 L876.2,322 L876.72,305.9 L877.24,289.6 L877.76,270.7 L878.28,263 L878.8,257.5 L879.4,246.6 L880,235 L880.6,234.7 L881.2,238.8 L881.68,239.1 L882.15,238.5 L882.62,229.2 L883.1,225 L883.58,223.3 L884.05,224.6 L884.52,216.4 L885,206.2 L885.6,216.8 L886.2,221.2 L886.68,221.5 L887.15,212.9 L887.62,213.9 L888.1,202.5 L888.6,195.4 L889.1,195.3 L889.6,190.9 L890.1,192.6 L890.6,191.2 L891.2,201.2" fill="none" stroke="#fff" stroke-width="2.6" stroke-linejoin="round" stroke-linecap="round"/>
<text class="ft" x="52" y="675.4" font-style="italic" textLength="919" lengthAdjust="spacingAndGlyphs">Disclosure: Crescat may or may not own the securities mentioned here; investing involves risks including risk of loss</text>
<text class="ft" x="8.8" y="701.7" textLength="241" lengthAdjust="spacingAndGlyphs">Source: Bloomberg; Tavi Costa</text>
<text class="ft" x="433.5" y="701.7" font-style="italic" textLength="189" lengthAdjust="spacingAndGlyphs">Chart As of 10/10/2025</text>
<text class="ft" x="802.5" y="701.7" textLength="213.5" lengthAdjust="spacingAndGlyphs">© 2025 Crescat Capital LLC</text>
<rect x="0" y="712.7" width="1024" height="1.3" fill="#5e5e5e"/>
</svg></body></html>
